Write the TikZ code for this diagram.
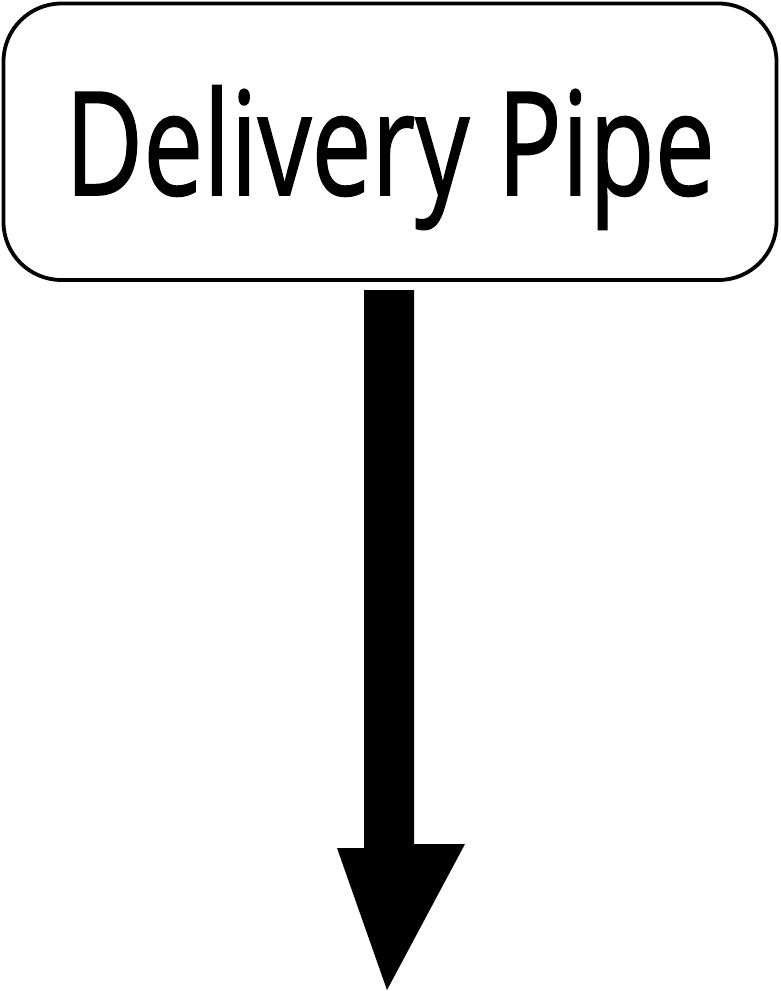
\documentclass[tikz,border=0pt]{standalone}
\usepackage{fontspec}
\setmainfont{Open Sans}
\newfontfamily\lblfont[FakeBold=1.2]{Open Sans}
\usepackage{graphicx}
\begin{document}
\begin{tikzpicture}[x=1pt,y=-1pt,
  boxstyle/.style={draw=black,line width=3.8pt,rounded corners=58pt,fill=white},
  arrowstyle/.style={fill=black,draw=none}]
\useasboundingbox (0,0) rectangle (780,991);
\draw[boxstyle] (3.5,3.5) rectangle (776.5,280);
\node[anchor=base,inner sep=0pt] (label) at (390,195)
  {\resizebox{650pt}{\height}{\lblfont\fontsize{144}{150}\selectfont Delivery Pipe}};
\coordinate (top) at (389,290);
\coordinate (tip) at (387,990);
\fill[arrowstyle] (364,290) -- (414,290) -- (414,844) -- (465,844) -- (tip) -- (337,848) -- (364,848) -- cycle;
\end{tikzpicture}
\end{document}
